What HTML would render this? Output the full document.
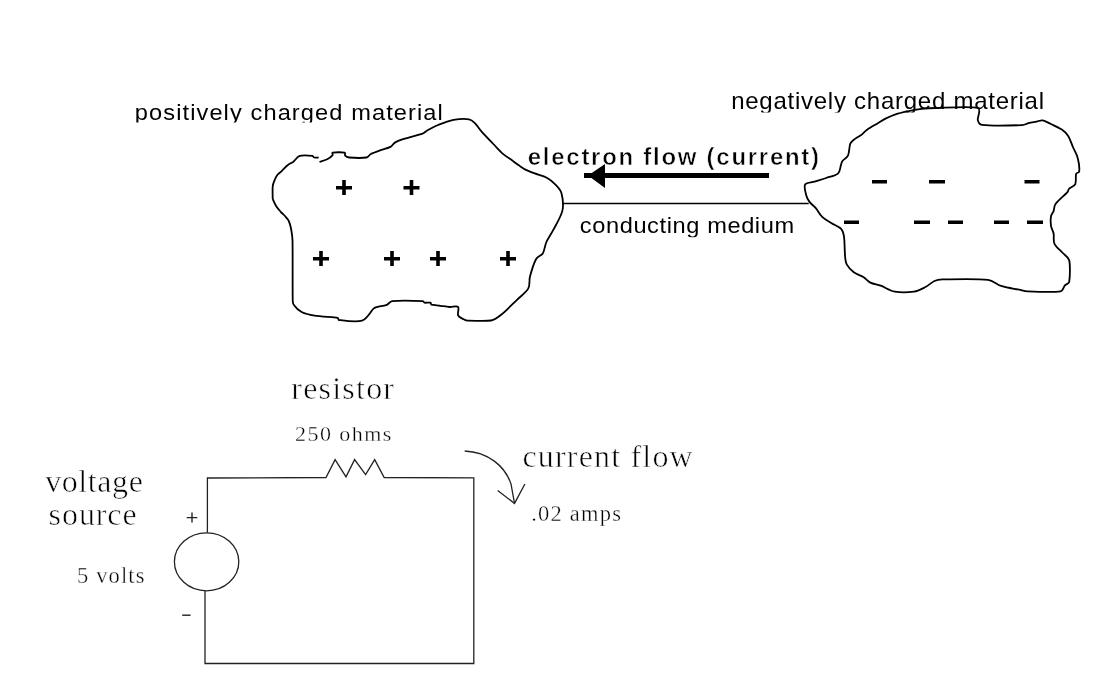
<!DOCTYPE html>
<html><head><meta charset="utf-8">
<style>
html,body{margin:0;padding:0;background:#fff;width:1098px;height:695px;overflow:hidden}
svg{display:block;will-change:transform}
</style></head><body>
<svg width="1098" height="695" viewBox="0 0 1098 695">
<g fill="none" stroke="#000" stroke-width="1.8" stroke-linejoin="round">
<path d="M272.7,199.0 C272.7,196.9 272.4,189.6 272.7,186.5 C272.9,184.4 273.6,182.6 274.4,180.7 C275.2,178.8 276.1,176.6 277.3,175.0 C278.6,173.4 280.3,172.4 281.9,170.9 C283.6,169.3 285.7,166.7 287.6,165.2 C289.5,163.7 291.5,163.1 293.4,161.7 C295.4,160.1 296.9,156.8 299.8,155.9 C303.0,154.9 310.0,155.6 312.4,155.9 C313.2,156.0 313.2,157.3 314.0,157.5 C315.0,157.8 317.8,157.5 318.6,157.5 M319.5,161.9 C320.8,161.5 325.0,160.4 327.2,159.3 C329.3,158.2 331.7,156.2 332.6,155.1 C333.1,154.4 331.7,152.8 332.6,152.6 C334.6,152.2 342.5,152.1 344.6,152.6 C345.7,152.9 344.5,154.9 345.2,155.7 C345.9,156.5 347.5,157.4 349.0,157.5 C352.6,157.8 362.9,158.1 366.5,157.5 C368.4,157.2 369.1,154.9 370.9,154.0 C373.3,152.8 377.4,151.4 380.7,150.2 C384.0,149.0 388.1,148.2 390.5,146.9 C392.4,145.9 393.0,143.7 394.9,142.6 C397.3,141.2 401.3,139.8 404.8,138.7 C409.4,137.2 418.7,135.1 422.5,133.7 C424.5,132.9 425.7,131.3 427.6,130.2 C430.2,128.8 434.2,126.5 438.0,125.0 C442.3,123.3 448.3,120.9 453.5,119.9 C458.7,119.0 465.5,118.7 469.1,119.3 C471.6,119.7 473.3,121.5 475.1,123.3 C477.1,125.3 478.9,128.5 481.2,131.1 C484.2,134.5 489.6,140.1 493.3,144.0 C496.9,147.7 500.4,151.7 503.6,154.4 C506.4,156.8 509.7,158.6 512.3,160.5 C514.7,162.3 517.2,164.2 519.2,165.6 C521.0,166.9 522.4,168.1 524.4,169.1 C527.0,170.4 531.1,172.0 534.7,173.4 C538.4,174.8 543.3,175.8 546.8,177.7 C550.2,179.5 553.0,182.0 555.5,184.6 C558.0,187.2 560.6,189.7 561.5,193.3 C562.6,197.6 563.7,204.7 562.4,210.6 C561.0,216.7 556.0,224.7 553.3,229.9 C551.1,234.2 548.1,238.1 546.4,242.0 C544.7,245.8 544.6,250.3 542.9,253.2 C541.2,255.9 537.6,256.4 536.0,259.2 C533.9,263.1 531.3,271.6 530.0,276.5 C528.9,280.6 530.3,284.9 528.2,288.6 C526.0,292.5 521.0,295.9 517.0,299.8 C512.5,304.1 505.8,311.1 501.5,314.5 C498.2,317.1 495.2,319.8 491.1,320.5 C485.3,321.5 471.5,320.7 466.9,320.5 C465.7,320.4 464.7,319.9 463.7,319.3 C462.2,318.4 459.0,317.4 458.1,315.3 C457.2,313.2 459.5,308.4 458.1,307.0 C456.7,305.6 452.5,307.2 449.6,307.0 C446.7,306.8 443.5,306.2 440.5,305.8 C437.5,305.4 433.1,305.2 431.4,304.7 C430.7,304.5 431.2,302.9 430.4,302.7 C429.2,302.4 425.6,302.9 424.4,302.7 C423.7,302.6 423.6,301.2 422.9,301.2 C417.5,300.9 398.3,300.5 392.2,301.2 C389.7,301.5 388.5,304.3 386.1,305.2 C383.7,306.1 380.1,306.2 378.0,306.8 C376.4,307.2 374.8,307.5 373.5,308.6 C370.8,310.9 367.5,318.8 362.0,320.6 C356.2,322.5 343.1,320.5 339.0,320.0 C338.1,319.9 338.5,318.0 337.6,317.8 C333.5,317.1 320.5,316.6 314.5,315.6 C309.9,314.9 305.1,313.8 301.6,312.0 C298.3,310.3 295.2,307.0 293.7,304.8 C292.5,303.1 292.7,301.1 292.7,299.0 C292.5,288.2 292.8,251.7 292.5,240.0 C292.4,236.1 291.7,232.2 291.1,229.0 C290.5,226.1 289.8,223.1 288.8,221.0 C288.0,219.2 286.6,217.9 285.3,216.4 C283.9,214.9 282.2,213.5 280.7,211.8 C279.2,210.1 277.4,208.1 276.1,206.0 C274.8,203.9 273.3,200.2 272.7,199.0"/>
<path d="M805.1,184.5 C806.5,182.2 811.3,182.6 814.6,181.6 C818.1,180.5 822.3,179.3 826.2,178.0 C830.1,176.7 835.5,175.7 837.9,173.6 C840.2,171.7 840.1,167.7 840.8,165.6 C841.3,164.1 841.4,162.5 842.3,161.2 C843.5,159.5 846.9,158.0 848.1,155.4 C849.4,152.5 849.1,146.5 850.3,143.7 C851.3,141.4 853.6,140.0 855.4,138.6 C857.2,137.2 859.3,136.4 861.2,135.0 C863.2,133.5 864.8,131.3 867.1,129.7 C869.9,127.7 874.6,125.1 877.8,123.2 C880.7,121.5 883.0,119.9 886.0,118.4 C889.0,116.9 892.1,115.4 895.5,114.3 C899.1,113.1 903.2,112.2 907.4,111.3 C911.8,110.4 916.9,109.5 921.6,108.9 C926.3,108.4 930.8,108.1 935.8,108.0 C945.2,107.8 970.8,106.0 977.8,108.0 C981.8,109.2 977.1,117.2 977.8,120.0 C978.3,122.2 979.8,124.6 982.0,124.9 C989.4,125.8 1014.5,125.4 1022.3,125.1 C1024.6,125.0 1026.4,123.8 1028.6,123.2 C1031.0,122.6 1034.1,122.1 1036.5,121.6 C1038.7,121.2 1040.6,120.0 1042.8,120.4 C1045.2,120.8 1048.0,122.7 1050.8,124.0 C1054.0,125.5 1058.9,127.6 1061.8,129.6 C1064.4,131.4 1066.5,133.3 1068.2,135.9 C1070.1,138.8 1071.3,143.3 1072.9,147.0 C1074.5,150.7 1076.7,153.9 1077.7,158.0 C1078.8,162.1 1079.5,168.8 1079.2,171.5 C1079.1,172.9 1076.5,172.6 1076.1,173.9 C1075.4,176.0 1076.4,181.7 1075.3,184.1 C1074.2,186.5 1070.5,187.3 1069.2,188.6 C1068.2,189.6 1068.3,191.1 1067.4,192.1 C1065.1,194.7 1057.7,201.0 1055.4,204.2 C1053.9,206.2 1054.3,209.1 1053.6,211.1 C1052.9,213.0 1051.4,214.3 1051.0,216.3 C1050.6,218.8 1050.6,222.9 1051.0,225.8 C1051.4,228.6 1053.1,230.7 1053.6,233.5 C1054.2,236.5 1053.0,240.7 1054.5,243.9 C1056.0,247.1 1059.8,249.8 1062.3,252.5 C1064.7,255.2 1068.4,256.8 1069.2,260.3 C1070.4,265.2 1069.9,277.7 1069.2,281.9 C1068.9,283.8 1066.2,284.0 1064.9,285.4 C1063.5,287.0 1063.1,291.0 1060.5,291.4 C1054.3,292.4 1034.6,291.7 1027.7,291.4 C1024.6,291.3 1022.1,290.3 1019.1,289.7 C1014.8,288.8 1007.0,287.8 1001.8,286.2 C996.7,284.6 993.3,280.4 988.0,279.8 C978.1,278.7 951.3,279.2 942.4,279.4 C939.6,279.5 937.1,279.8 934.5,281.0 C931.6,282.3 928.4,285.5 925.0,287.3 C921.6,289.1 918.0,291.1 913.9,291.7 C908.9,292.4 900.4,292.7 894.9,291.7 C889.6,290.7 884.8,287.2 880.7,285.7 C877.2,284.4 873.3,284.1 870.4,282.6 C867.6,281.2 866.0,278.7 863.3,277.0 C860.5,275.3 856.6,274.4 853.8,272.3 C851.0,270.2 848.2,267.0 846.7,264.4 C845.3,261.9 845.4,259.3 845.1,256.5 C844.6,251.9 844.7,241.3 844.0,236.7 C843.6,233.8 843.1,231.0 841.1,228.8 C839.0,226.6 834.8,225.2 831.6,223.2 C828.5,221.2 824.8,219.4 822.2,216.9 C819.6,214.4 817.9,210.7 815.8,208.2 C813.8,205.8 811.1,204.0 809.5,201.9 C808.0,199.9 806.9,197.9 806.3,195.5 C805.6,192.6 803.7,186.8 805.1,184.5"/>
<path d="M562.4,203.5 L808.7,203.5" stroke-width="1.4"/>
</g>
<!-- arrow -->
<rect x="584" y="173" width="185" height="5" fill="#000"/>
<path d="M588,175.5 L605,164 L605,188 Z" fill="#000"/>
<!-- plus signs -->
<g fill="#000">
<rect x="336.0" y="186.0" width="16" height="3.5"/><rect x="342.2" y="180" width="3.6" height="15"/>
<rect x="403.5" y="186.0" width="16" height="3.5"/><rect x="409.7" y="180" width="3.6" height="15"/>
<rect x="313.0" y="257.0" width="16" height="3.5"/><rect x="319.2" y="251" width="3.6" height="15"/>
<rect x="384.0" y="257.0" width="16" height="3.5"/><rect x="390.2" y="251" width="3.6" height="15"/>
<rect x="430.0" y="257.0" width="16" height="3.5"/><rect x="436.2" y="251" width="3.6" height="15"/>
<rect x="500.0" y="257.0" width="16" height="3.5"/><rect x="506.2" y="251" width="3.6" height="15"/>
<!-- minus -->
<rect x="872" y="180" width="15" height="3.5"/>
<rect x="929" y="180" width="16" height="3.5"/>
<rect x="1024.5" y="180" width="15" height="3.5"/>
<rect x="844" y="220.5" width="15" height="3.5"/>
<rect x="914" y="220.5" width="16" height="3.5"/>
<rect x="948" y="220.5" width="15" height="3.5"/>
<rect x="994" y="220.5" width="15" height="3.5"/>
<rect x="1027" y="220.5" width="16" height="3.5"/>
</g>
<!-- circuit -->
<g fill="none" stroke="#222" stroke-width="1.3">
<path d="M207.4,532.8 L207.4,478 326,477.5 335.1,459.6 346,476.9 354.6,459.6 365.6,474.6 374.7,459.6 384.2,477.5 473.8,477.8 473.8,663.5 205,663.5 205,590.9"/>
<ellipse cx="206.6" cy="561.8" rx="32.2" ry="29"/>
<path d="M464.7,451 C488,452 505,466 511,484 L514.5,503.4" />
<path d="M497.7,490.5 L514.5,503.4 L524.9,484"/>
</g>
<clipPath id="c0"><rect x="0" y="0" width="1098" height="122.39999999999999"/></clipPath>
<g clip-path="url(#c0)"><text transform="translate(134.80,119.8) scale(1.05,1)" x="0" y="0" textLength="293.33" lengthAdjust="spacing" style="font-family:&quot;Liberation Sans&quot;;font-weight:normal;font-size:22.5px;fill:#000">positively charged material</text></g>
<clipPath id="c2"><rect x="0" y="0" width="1098" height="112.5"/></clipPath>
<g clip-path="url(#c2)"><text transform="translate(731.20,108.5) scale(1.0,1)" x="0" y="0" textLength="312.80" lengthAdjust="spacing" style="font-family:&quot;Liberation Sans&quot;;font-weight:normal;font-size:24px;fill:#000">negatively charged material</text></g>
<g><text transform="translate(527.80,164.6) scale(1.04,1)" x="0" y="0" textLength="280.00" lengthAdjust="spacing" style="font-family:&quot;Liberation Sans&quot;;font-weight:bold;font-size:23px;fill:#000;stroke:#fff;stroke-width:0.5px">electron flow (current)</text></g>
<clipPath id="c5"><rect x="0" y="0" width="1098" height="237.3"/></clipPath>
<g clip-path="url(#c5)"><text transform="translate(579.80,232.8) scale(1.05,1)" x="0" y="0" textLength="204.10" lengthAdjust="spacing" style="font-family:&quot;Liberation Sans&quot;;font-weight:normal;font-size:22.5px;fill:#000">conducting medium</text></g>
<g><text transform="translate(291.30,399) scale(1.0,1)" x="0" y="0" textLength="102.70" lengthAdjust="spacing" style="font-family:&quot;Liberation Serif&quot;;font-weight:normal;font-size:32px;fill:#000;stroke:#fff;stroke-width:0.6px">resistor</text></g>
<g><text transform="translate(295.00,440.5) scale(1.0,1)" x="0" y="0" textLength="96.40" lengthAdjust="spacing" style="font-family:&quot;Liberation Serif&quot;;font-weight:normal;font-size:22px;fill:#000;stroke:#fff;stroke-width:0.35px">250 ohms</text></g>
<g><text transform="translate(522.40,467.4) scale(1.0,1)" x="0" y="0" textLength="170.30" lengthAdjust="spacing" style="font-family:&quot;Liberation Serif&quot;;font-weight:normal;font-size:32px;fill:#000;stroke:#fff;stroke-width:0.6px">current flow</text></g>
<g><text transform="translate(531.20,520.7) scale(1.0,1)" x="0" y="0" textLength="89.80" lengthAdjust="spacing" style="font-family:&quot;Liberation Serif&quot;;font-weight:normal;font-size:22.5px;fill:#000;stroke:#fff;stroke-width:0.35px">.02 amps</text></g>
<g><text transform="translate(45.20,491.6) scale(1.0,1)" x="0" y="0" textLength="97.70" lengthAdjust="spacing" style="font-family:&quot;Liberation Serif&quot;;font-weight:normal;font-size:32px;fill:#000;stroke:#fff;stroke-width:0.6px">voltage</text></g>
<g><text transform="translate(48.60,524.8) scale(1.0,1)" x="0" y="0" textLength="88.10" lengthAdjust="spacing" style="font-family:&quot;Liberation Serif&quot;;font-weight:normal;font-size:32px;fill:#000;stroke:#fff;stroke-width:0.6px">source</text></g>
<g><text transform="translate(77.10,582.5) scale(1.0,1)" x="0" y="0" textLength="67.40" lengthAdjust="spacing" style="font-family:&quot;Liberation Serif&quot;;font-weight:normal;font-size:22.5px;fill:#000;stroke:#fff;stroke-width:0.35px">5 volts</text></g>
<g stroke="#222" stroke-width="1.4">
<path d="M186.7,517.6 L197.3,517.6 M192,512.6 L192,522.6"/>
<path d="M182.2,615.2 L190.6,615.2"/>
</g>
</svg>
</body></html>
